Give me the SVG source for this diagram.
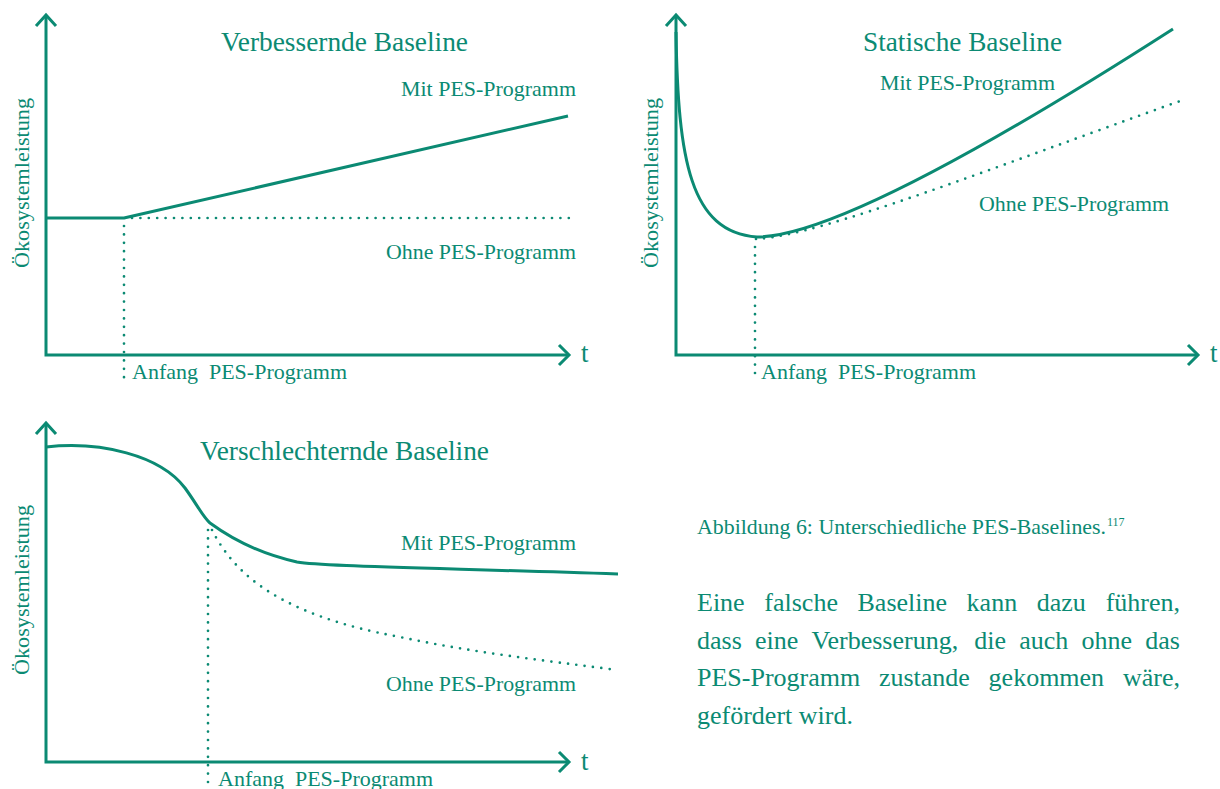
<svg xmlns="http://www.w3.org/2000/svg" width="1220" height="789" viewBox="0 0 1220 789">
<style>
  .ax{fill:none;stroke:#0b8a73;stroke-width:3;stroke-linecap:butt;stroke-linejoin:miter}
  .sol{fill:none;stroke:#0b8a73;stroke-width:3;stroke-linejoin:round}
  .dot{fill:none;stroke:#0b8a73;stroke-width:2.7;stroke-linecap:round;stroke-dasharray:0 8.4}
  text{font-family:"Liberation Serif","Times New Roman",serif;fill:#0b8a73}
  .ttl{font-size:27px;text-anchor:middle}
  .lbl{font-size:21.5px}
  .t{font-size:27px}
  .par{font-size:26px}
</style>
<rect width="1220" height="789" fill="#ffffff"/>

<g id="panel1">
  <g id="p1-axes">
    <path class="ax" d="M46,15 V355 H569"/>
    <path class="ax" d="M36,26 L46,15 L56,26"/>
    <path class="ax" d="M559,345 L569,355 L559,365"/>
  </g>
  <text class="t" x="581" y="362">t</text>
  <text class="ttl" x="344.5" y="51" textLength="247" lengthAdjust="spacingAndGlyphs">Verbessernde Baseline</text>
  <text class="lbl" x="401" y="96" textLength="175" lengthAdjust="spacingAndGlyphs">Mit PES-Programm</text>
  <text class="lbl" x="386" y="259" textLength="190" lengthAdjust="spacingAndGlyphs">Ohne PES-Programm</text>
  <text class="lbl" x="132" y="379" xml:space="preserve" textLength="215" lengthAdjust="spacingAndGlyphs">Anfang  PES-Programm</text>
  <text class="lbl" transform="translate(29,183) rotate(-90)" text-anchor="middle" textLength="170" lengthAdjust="spacingAndGlyphs">Ökosystemleistung</text>
</g>

<g id="panel2">
  <g id="p2-axes">
    <path class="ax" d="M676,15 V355 H1198"/>
    <path class="ax" d="M666,26 L676,15 L686,26"/>
    <path class="ax" d="M1188,345 L1198,355 L1188,365"/>
  </g>
  <text class="t" x="1210" y="362">t</text>
  <text class="ttl" x="962.5" y="51" textLength="199" lengthAdjust="spacingAndGlyphs">Statische Baseline</text>
  <text class="lbl" x="880" y="90" textLength="175" lengthAdjust="spacingAndGlyphs">Mit PES-Programm</text>
  <text class="lbl" x="979" y="211" textLength="190" lengthAdjust="spacingAndGlyphs">Ohne PES-Programm</text>
  <text class="lbl" x="761" y="379" xml:space="preserve" textLength="215" lengthAdjust="spacingAndGlyphs">Anfang  PES-Programm</text>
  <text class="lbl" transform="translate(658,183) rotate(-90)" text-anchor="middle" textLength="170" lengthAdjust="spacingAndGlyphs">Ökosystemleistung</text>
</g>

<g id="panel3">
  <g id="p3-axes">
    <path class="ax" d="M46,423 V762 H569"/>
    <path class="ax" d="M36,434 L46,423 L56,434"/>
    <path class="ax" d="M559,752 L569,762 L559,772"/>
  </g>
  <text class="t" x="581" y="770">t</text>
  <text class="ttl" x="344.5" y="460" textLength="289" lengthAdjust="spacingAndGlyphs">Verschlechternde Baseline</text>
  <text class="lbl" x="401" y="550" textLength="175" lengthAdjust="spacingAndGlyphs">Mit PES-Programm</text>
  <text class="lbl" x="386" y="691" textLength="190" lengthAdjust="spacingAndGlyphs">Ohne PES-Programm</text>
  <text class="lbl" x="218" y="786" xml:space="preserve" textLength="215" lengthAdjust="spacingAndGlyphs">Anfang  PES-Programm</text>
  <text class="lbl" transform="translate(29,590) rotate(-90)" text-anchor="middle" textLength="170" lengthAdjust="spacingAndGlyphs">Ökosystemleistung</text>
</g>

<g id="connectors">
  <path class="sol" d="M46,218 H124 L568,116"/>
  <path class="dot" d="M132,218 H572"/>
  <path class="dot" d="M124,226 V380"/>

  <path class="sol" d="M676,32 C678,160 690,232 757,237 C830,237 1000,140 1173,29"/>
  <path class="dot" d="M756,239 C820,236 1000,165 1183,100"/>
  <path class="dot" d="M755,247 V380"/>

  <path class="sol" d="M46,447 C100,441 160,455 185,488 C198,506 203,517 210,523 C240,545 270,556 297,562 C320,566 400,567 618,574"/>
  <path class="dot" d="M212,530 C235,575 280,615 400,637 C470,652 540,660 617,670"/>
  <path class="dot" d="M208,530 V789"/>
</g>

<g id="caption">
  <text x="697" y="534" font-size="21" textLength="409" lengthAdjust="spacingAndGlyphs">Abbildung 6: Unterschiedliche PES-Baselines.</text>
  <text x="1107" y="526" font-size="12">117</text>
</g>

<g id="paragraph" class="par">
  <text class="par" y="611"><tspan x="697">Eine</tspan><tspan x="764.3">falsche</tspan><tspan x="857.5">Baseline</tspan><tspan x="966.6">kann</tspan><tspan x="1036.7">dazu</tspan><tspan x="1180" text-anchor="end">führen,</tspan></text>
  <text class="par" y="649"><tspan x="697">dass</tspan><tspan x="755">eine</tspan><tspan x="811.6">Verbesserung,</tspan><tspan x="974.2">die</tspan><tspan x="1019.2">auch</tspan><tspan x="1081.5">ohne</tspan><tspan x="1180" text-anchor="end">das</tspan></text>
  <text class="par" y="686"><tspan x="697">PES-Programm</tspan><tspan x="878.9">zustande</tspan><tspan x="988.6">gekommen</tspan><tspan x="1180" text-anchor="end">wäre,</tspan></text>
  <text class="par" y="724" x="697">gefördert wird.</text>
</g>
</svg>
